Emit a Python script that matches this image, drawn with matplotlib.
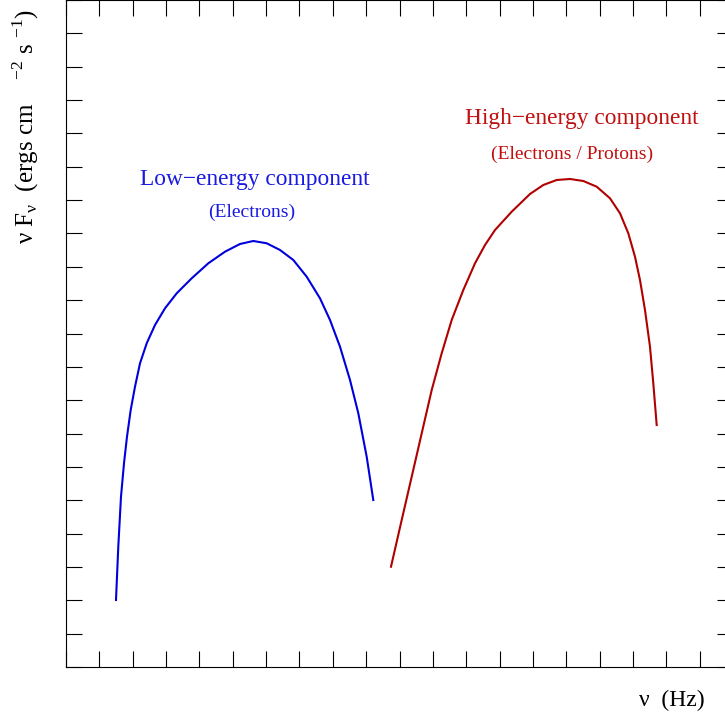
import matplotlib
matplotlib.use("Agg")
import matplotlib.pyplot as plt
import numpy as np

# spectral energy distribution sketch (arbitrary units, axes 0..20)
low_x = [1.499, 1.568, 1.649, 1.739, 1.829, 1.940, 2.069, 2.219, 2.420, 2.669,
         2.969, 3.319, 3.769, 4.267, 4.768, 5.217, 5.616, 6.018, 6.417, 6.816,
         7.217, 7.616, 7.916, 8.216, 8.516, 8.765, 9.016, 9.214]
low_y = [2.009, 3.607, 5.106, 6.108, 6.906, 7.706, 8.405, 9.106, 9.706, 10.255,
         10.756, 11.205, 11.655, 12.105, 12.453, 12.684, 12.774, 12.705, 12.504,
         12.204, 11.703, 11.055, 10.405, 9.604, 8.606, 7.607, 6.306, 5.007]

high_x = [9.745, 10.066, 10.366, 10.666, 10.966, 11.265, 11.565, 11.913, 12.264,
          12.564, 12.864, 13.364, 13.913, 14.312, 14.714, 15.112, 15.511, 15.913,
          16.312, 16.612, 16.861, 17.061, 17.211, 17.361, 17.511, 17.610, 17.712]
high_y = [3.007, 4.408, 5.706, 7.007, 8.306, 9.406, 10.405, 11.304, 12.105,
          12.654, 13.103, 13.652, 14.183, 14.453, 14.603, 14.633, 14.573, 14.402,
          14.054, 13.604, 13.004, 12.303, 11.604, 10.705, 9.604, 8.507, 7.256]

plt.rcParams['font.family'] = ['Liberation Serif', 'DejaVu Serif']
plt.rcParams['mathtext.fontset'] = 'custom'
plt.rcParams['mathtext.rm'] = 'Liberation Serif'

fig = plt.figure(figsize=(7.25, 7.16), dpi=100)
ax = fig.add_axes([66/725, 49/716, 667/725, 667/716])

ax.plot(low_x, low_y, color='#0000dd', lw=1.5)
ax.plot(high_x, high_y, color='#b00000', lw=1.5)

ax.text(5.67, 14.61, 'Low\u2212energy component', color='#1a1ae0',
        fontsize=16.8, ha='center', va='center')
ax.text(5.58, 13.62, '(Electrons)', color='#1a1ae0',
        fontsize=14, ha='center', va='center')
ax.text(15.48, 16.44, 'High\u2212energy component', color='#c01010',
        fontsize=16.8, ha='center', va='center')
ax.text(15.18, 15.36, '(Electrons / Protons)', color='#c01010',
        fontsize=14, ha='center', va='center')

ax.set_xlim(0, 20)
ax.set_ylim(0, 20)
ax.set_xticks(np.arange(0, 21, 1))
ax.set_yticks(np.arange(0, 21, 1))
ax.tick_params(direction='in', length=11.5, width=0.8, top=True, right=True,
               labelbottom=False, labelleft=False)
for s in ax.spines.values():
    s.set_linewidth(0.8)

fig.text(26/725, 1 - 9/716,
         'ν F$_{\\mathregular{ν}}$  (ergs cm    $^{\\mathregular{-2}}$ s $^{\\mathregular{-1}}$)',
         rotation=90, ha='center', va='top', fontsize=18)
fig.text(639/725, 1 - 700/716, 'ν  (Hz)', ha='left', va='center', fontsize=17)

fig.savefig('out.png', dpi=100)
